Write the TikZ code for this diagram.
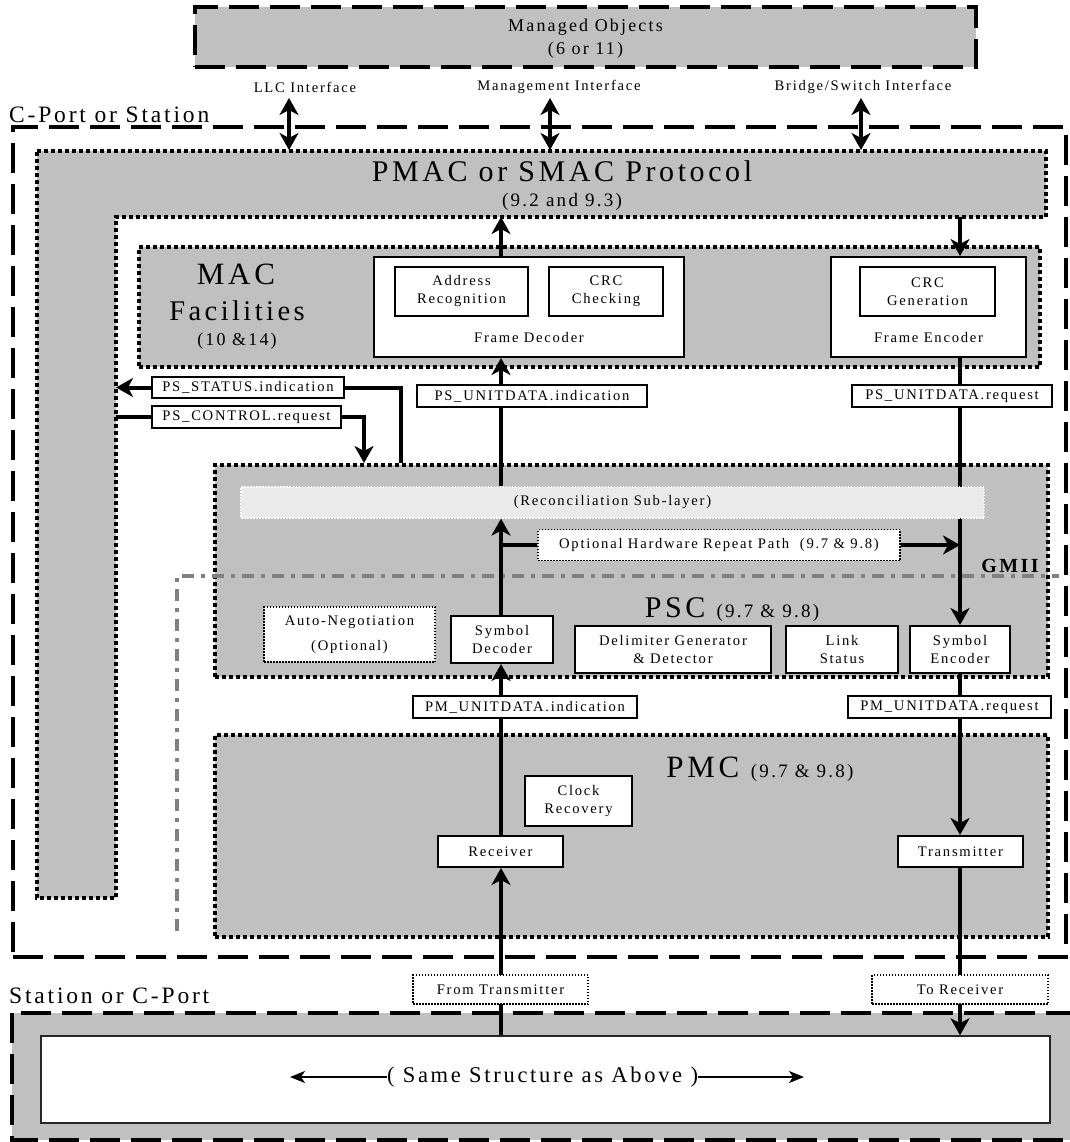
\documentclass[tikz,border=0pt]{standalone}
\usepackage{fontspec}
\setmainfont{Liberation Serif}[LetterSpace=12]
\usetikzlibrary{arrows.meta}
\definecolor{gA}{HTML}{C0C0C0}
\definecolor{gB}{HTML}{EAEAEA}
\definecolor{gC}{HTML}{808080}
\pgfdeclarelayer{bg}
\pgfdeclarelayer{ln}
\pgfsetlayers{bg,ln,main}
\newcommand\fsm{\fontsize{14.6}{18}\selectfont}
\newcommand\fmo{\fontsize{18}{20}\selectfont}
\newcommand\fpar{\fontsize{19}{20}\selectfont}
\newcommand\fbig{\fontsize{30}{32}\selectfont}
\newcommand\fcp{\fontsize{23.5}{26}\selectfont}
\begin{document}
\begin{tikzpicture}[x=1pt,y=-1pt,
  region/.style={fill=gA, draw=black, line width=4pt, dash pattern=on 4pt off 3pt, inner sep=0pt},
  dregion/.style={fill=gA, draw=black, line width=4pt, dash pattern=on 30pt off 11pt, inner sep=0pt},
  dframe/.style={draw=black, line width=4pt, dash pattern=on 30pt off 11pt, inner sep=0pt},
  wbox/.style={fill=white, draw=black, line width=2pt, inner sep=0pt, align=center, font=\fsm},
  lbl/.style={fill=white, draw=black, line width=1.8pt, inner sep=0pt, font=\fsm},
  dotbox/.style={fill=white, draw=black, line width=1.2pt, dash pattern=on 1.5pt off 1.5pt, inner sep=0pt, font=\fsm, align=center},
  txt/.style={inner sep=0pt},
  conn/.style={line width=4pt},
  arr/.style={conn, -{Stealth[length=17pt,width=19pt,inset=5pt]}},
  dbl/.style={conn, {Stealth[length=17pt,width=19pt,inset=5pt]}-{Stealth[length=17pt,width=19pt,inset=5pt]}},
  thinarr/.style={line width=1.5pt, -{Stealth[length=15pt,width=12pt,inset=4pt]}},
  gmii/.style={draw=gC, line width=3.5pt, dash pattern=on 12pt off 7pt on 4pt off 7pt}
]
\useasboundingbox (0,0) rectangle (1069,1142);

% ---------- background regions ----------
\begin{pgfonlayer}{bg}
\node[dregion, minimum width=781pt, minimum height=60pt] (mo) at (585.5,37) {};
\node[dframe, minimum width=1053pt, minimum height=830pt] (cport) at (539.5,542) {};
\path[region] (37,151) -- (1046,151) -- (1046,217) -- (116,217) -- (116,898) -- (37,898) -- cycle;
\node[region, minimum width=901pt, minimum height=120pt] (mac) at (589.5,307) {};
\node[region, minimum width=833pt, minimum height=212pt] (rsl) at (631.5,571) {};
\node[region, minimum width=833pt, minimum height=202pt] (pmc) at (631.5,836) {};
\draw[gmii] (177,931) -- (177,576) -- (1059,576);
\path[dregion] (12,1013) rectangle (1073,1140);
\end{pgfonlayer}

% ---------- coordinates ----------
\coordinate (Lx) at (501,0);
\coordinate (Rx) at (960,0);
\coordinate (pmacTop) at (0,150);
\coordinate (pmacIn) at (0,217);
\coordinate (pmacInX) at (116,0);
\coordinate (sx) at (401,0);
\coordinate (cx) at (364,0);
\coordinate (llcA) at (289,98);
\coordinate (mgA) at (550,98);
\coordinate (bsA) at (861,98);
\coordinate (sL) at (290,1077);
\coordinate (sR) at (804,1077);

% ---------- texts ----------
\node[txt, font=\fmo] (motext) at (585.5,27) {Managed Objects};
\node[txt, font=\fmo] (mosub) at (585.5,50) {(6 or 11)};
\node[txt, font=\fsm] (llc) at (305,87) {LLC Interface};
\node[txt, font=\fsm] (mgi) at (559,87) {Management Interface};
\node[txt, font=\fsm] (bsi) at (863,87) {Bridge/Switch Interface};
\node[txt, font=\fcp, anchor=base west] (cpl) at (9,123) {C-Port or Station};
\node[txt, font=\fbig, anchor=base] (pmact) at (562,182) {PMAC or SMAC Protocol};
\node[txt, font=\fpar, anchor=base] (pmacs) at (562,206) {(9.2 and 9.3)};
\node[txt, font=\fontsize{31}{32}\selectfont, anchor=base] (mact) at (236,284) {MAC};
\node[txt, font=\fontsize{28.5}{30}\selectfont, anchor=base] (macf) at (237,320) {Facilities};
\node[txt, font=\fmo, anchor=base] (macs) at (237,345) {(10 \&14)};

% MAC facilities
\node[wbox, minimum width=310pt, minimum height=100pt] (fdec) at (529,307) {};
\node[wbox, minimum width=133pt, minimum height=49pt] (addr) at (461.5,291.5) {Address\\Recognition};
\node[wbox, minimum width=114pt, minimum height=49pt] (crcc) at (606,291.5) {CRC\\Checking};
\node[txt, font=\fsm, anchor=base] (fdect) at (529,342) {Frame Decoder};
\node[wbox, minimum width=195pt, minimum height=100pt] (fenc) at (928.5,307) {};
\node[wbox, minimum width=135pt, minimum height=49pt] (crcg) at (927.5,291.5) {CRC\\Generation};
\node[txt, font=\fsm, anchor=base] (fenct) at (928.5,342) {Frame Encoder};

% service primitives
\node[lbl, minimum width=192pt, minimum height=21pt] (psstat) at (248,387.5) {PS\_STATUS.indication};
\node[lbl, minimum width=189pt, minimum height=22pt] (psctrl) at (246.5,417) {PS\_CONTROL.request};
\node[lbl, minimum width=230pt, minimum height=22pt] (psui) at (532,396) {PS\_UNITDATA.indication};
\node[lbl, minimum width=200pt, minimum height=22pt] (psur) at (952,396) {PS\_UNITDATA.request};

% reconciliation / PSC
\node[fill=gB, draw=white, line width=1.2pt, dash pattern=on 1.5pt off 1.5pt, minimum width=743pt, minimum height=31pt, inner sep=0pt, font=\fsm] (recon) at (612.5,502.5) {(Reconciliation Sub-layer)};
\node[dotbox, minimum width=362pt, minimum height=31pt] (ohr) at (719,545) {Optional Hardware Repeat Path\ \ (9.7 \& 9.8)};
\node[txt, font=\fontsize{20}{22}\selectfont\bfseries, anchor=base] (gmiit) at (1010,572) {GMII};
\node[txt, anchor=base] (psct) at (732,617) {\fbig PSC \fpar(9.7 \& 9.8)};
\node[dotbox, minimum width=171pt, minimum height=55pt] (auto) at (349.5,634.5) {Auto-Negotiation\\[7pt](Optional)};
\node[wbox, minimum width=102pt, minimum height=47pt] (sdec) at (502,639.5) {Symbol\\Decoder};
\node[wbox, minimum width=196pt, minimum height=47pt] (delim) at (673,649.5) {Delimiter Generator\\\& Detector};
\node[wbox, minimum width=112pt, minimum height=47pt] (link) at (842,649.5) {Link\\Status};
\node[wbox, minimum width=100pt, minimum height=47pt] (senc) at (960,649.5) {Symbol\\Encoder};

\node[lbl, minimum width=224pt, minimum height=22pt] (pmui) at (525,707) {PM\_UNITDATA.indication};
\node[lbl, minimum width=203pt, minimum height=22pt] (pmur) at (949.5,707) {PM\_UNITDATA.request};

% PMC
\node[txt, anchor=base] (pmct) at (760,777) {\fontsize{31}{32}\selectfont PMC \fpar(9.7 \& 9.8)};
\node[wbox, minimum width=107pt, minimum height=50pt] (clk) at (578.5,801) {Clock\\Recovery};
\node[wbox, minimum width=125pt, minimum height=31pt] (recv) at (500.5,851.5) {Receiver};
\node[wbox, minimum width=125pt, minimum height=31pt] (xmit) at (960.5,851.5) {Transmitter};

% lower station
\node[dotbox, minimum width=175pt, minimum height=29pt] (fromx) at (500.5,989.5) {From Transmitter};
\node[dotbox, minimum width=176pt, minimum height=29pt] (torx) at (960,989.5) {To Receiver};
\node[txt, font=\fcp, anchor=base west] (stl) at (9,1003) {Station or C-Port};
\node[fill=white, draw=black!85, line width=1.5pt, minimum width=1009pt, minimum height=87pt, inner sep=0pt] (same) at (545.5,1079.5) {};
\node[txt, font=\fontsize{22.5}{24}\selectfont] (sst) at (542.5,1077) {( Same Structure as Above )};
\draw[thinarr] (sst.west) -- (sL);
\draw[thinarr] (sst.east) -- (sR);

% ---------- connectors ----------
\begin{pgfonlayer}{ln}
\draw[dbl] (llcA) -- (llcA |- pmacTop);
\draw[dbl] (mgA) -- (mgA |- pmacTop);
\draw[dbl] (bsA) -- (bsA |- pmacTop);
\draw[arr] (fdec.north -| Lx) -- (Lx |- pmacIn);
\draw[arr] (Rx |- pmacIn) -- (fenc.north -| Rx);
\draw[arr] (recon.north -| Lx) -- (fdec.south -| Lx);
\draw[arr] (fenc.south -| Rx) -- (senc.north -| Rx);
\draw[arr] (sdec.north -| Lx) -- (recon.south -| Lx);
\draw[conn] (ohr.west -| Lx) -- (ohr.west);
\draw[arr] (ohr.east) -- (ohr.east -| Rx);
\draw[arr] (recv.north -| Lx) -- (sdec.south -| Lx);
\draw[arr] (senc.south -| Rx) -- (xmit.north -| Rx);
\draw[arr] (same.north -| Lx) -- (recv.south -| Lx);
\draw[arr] (xmit.south -| Rx) -- (same.north -| Rx);
\draw[conn] (rsl.north -| sx) -- (sx |- psstat.east) -- (psstat.east);
\draw[arr] (psstat.west) -- (psstat.west -| pmacInX);
\draw[conn] (psctrl.west -| pmacInX) -- (psctrl.west);
\draw[arr] (psctrl.east) -- (cx |- psctrl.east) -- (rsl.north -| cx);
\end{pgfonlayer}
\end{tikzpicture}
\end{document}
